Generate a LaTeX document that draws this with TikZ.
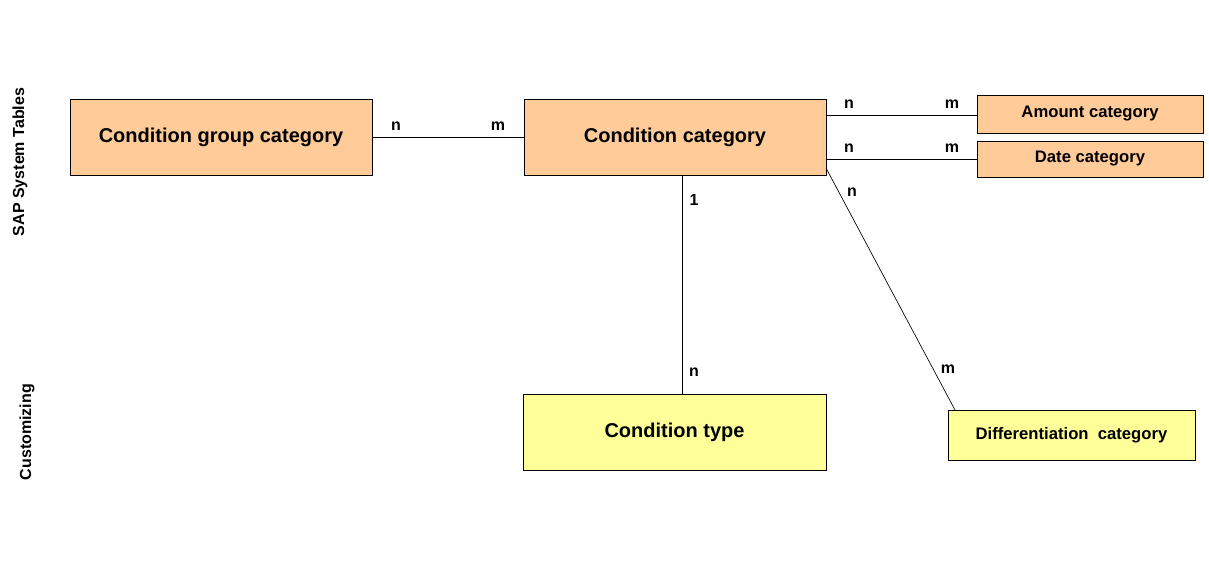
\documentclass[tikz,border=0pt]{standalone}
\usepackage{fontspec}
\setmainfont{Liberation Sans}
\begin{document}
\begin{tikzpicture}[x=0.75pt,y=-0.75pt,
  box/.style={draw=black,line width=0.6pt,inner sep=0pt,font=\bfseries},
  big/.style={box,font=\bfseries\fontsize{15}{18}\selectfont},
  small/.style={box,font=\bfseries\fontsize{12.5}{15}\selectfont},
  orange/.style={fill={rgb,255:red,255;green,204;blue,153}},
  yellow/.style={fill={rgb,255:red,255;green,255;blue,153}},
  lab/.style={font=\bfseries\fontsize{12}{14}\selectfont,inner sep=0pt},
  con/.style={draw=black,line width=0.5pt}]
\useasboundingbox (0,0) rectangle (1209,567);
\node[big,orange,minimum width=302*0.75pt,minimum height=76*0.75pt] (cgc) at (221,137) {Condition group category};
\node[big,orange,minimum width=302*0.75pt,minimum height=76*0.75pt] (cc) at (675,137) {Condition category};
\node[small,orange,minimum width=226*0.75pt,minimum height=38*0.75pt] (am) at (1090,114) {Amount category};
\node[small,orange,minimum width=226*0.75pt,minimum height=36*0.75pt] (dc) at (1090,159) {Date category};
\node[big,yellow,minimum width=303*0.75pt,minimum height=76*0.75pt] (ct) at (674.5,432) {Condition type};
\node[small,yellow,minimum width=247*0.75pt,minimum height=50*0.75pt] (df) at (1071.5,435) {Differentiation\ \ category};
\draw[con] (cgc.east) -- (cc.west);
\coordinate (a1) at (826,115); \coordinate (a2) at (977,115);
\draw[con] (a1) -- (a2);
\coordinate (d1) at (826,159); \coordinate (d2) at (977,159);
\draw[con] (d1) -- (d2);
\coordinate (v1) at (682,175); \coordinate (v2) at (682,394);
\draw[con] (v1) -- (v2);
\coordinate (g1) at (826,168); \coordinate (g2) at (955,410);
\draw[con] (g1) -- (g2);
\node[lab] (l1) at (396,126) {n};
\node[lab] (l2) at (498,126) {m};
\node[lab] (l3) at (849,104) {n};
\node[lab] (l4) at (952,104) {m};
\node[lab] (l5) at (849,148) {n};
\node[lab] (l6) at (952,148) {m};
\node[lab] (l7) at (852,192) {n};
\node[lab] (l8) at (948,369) {m};
\node[lab] (l9) at (694,200) {1};
\node[lab] (l10) at (694,372) {n};
\node[lab,rotate=90] (s1) at (20,162) {SAP System Tables};
\node[lab,rotate=90] (s2) at (27,432) {Customizing};
\end{tikzpicture}
\end{document}
